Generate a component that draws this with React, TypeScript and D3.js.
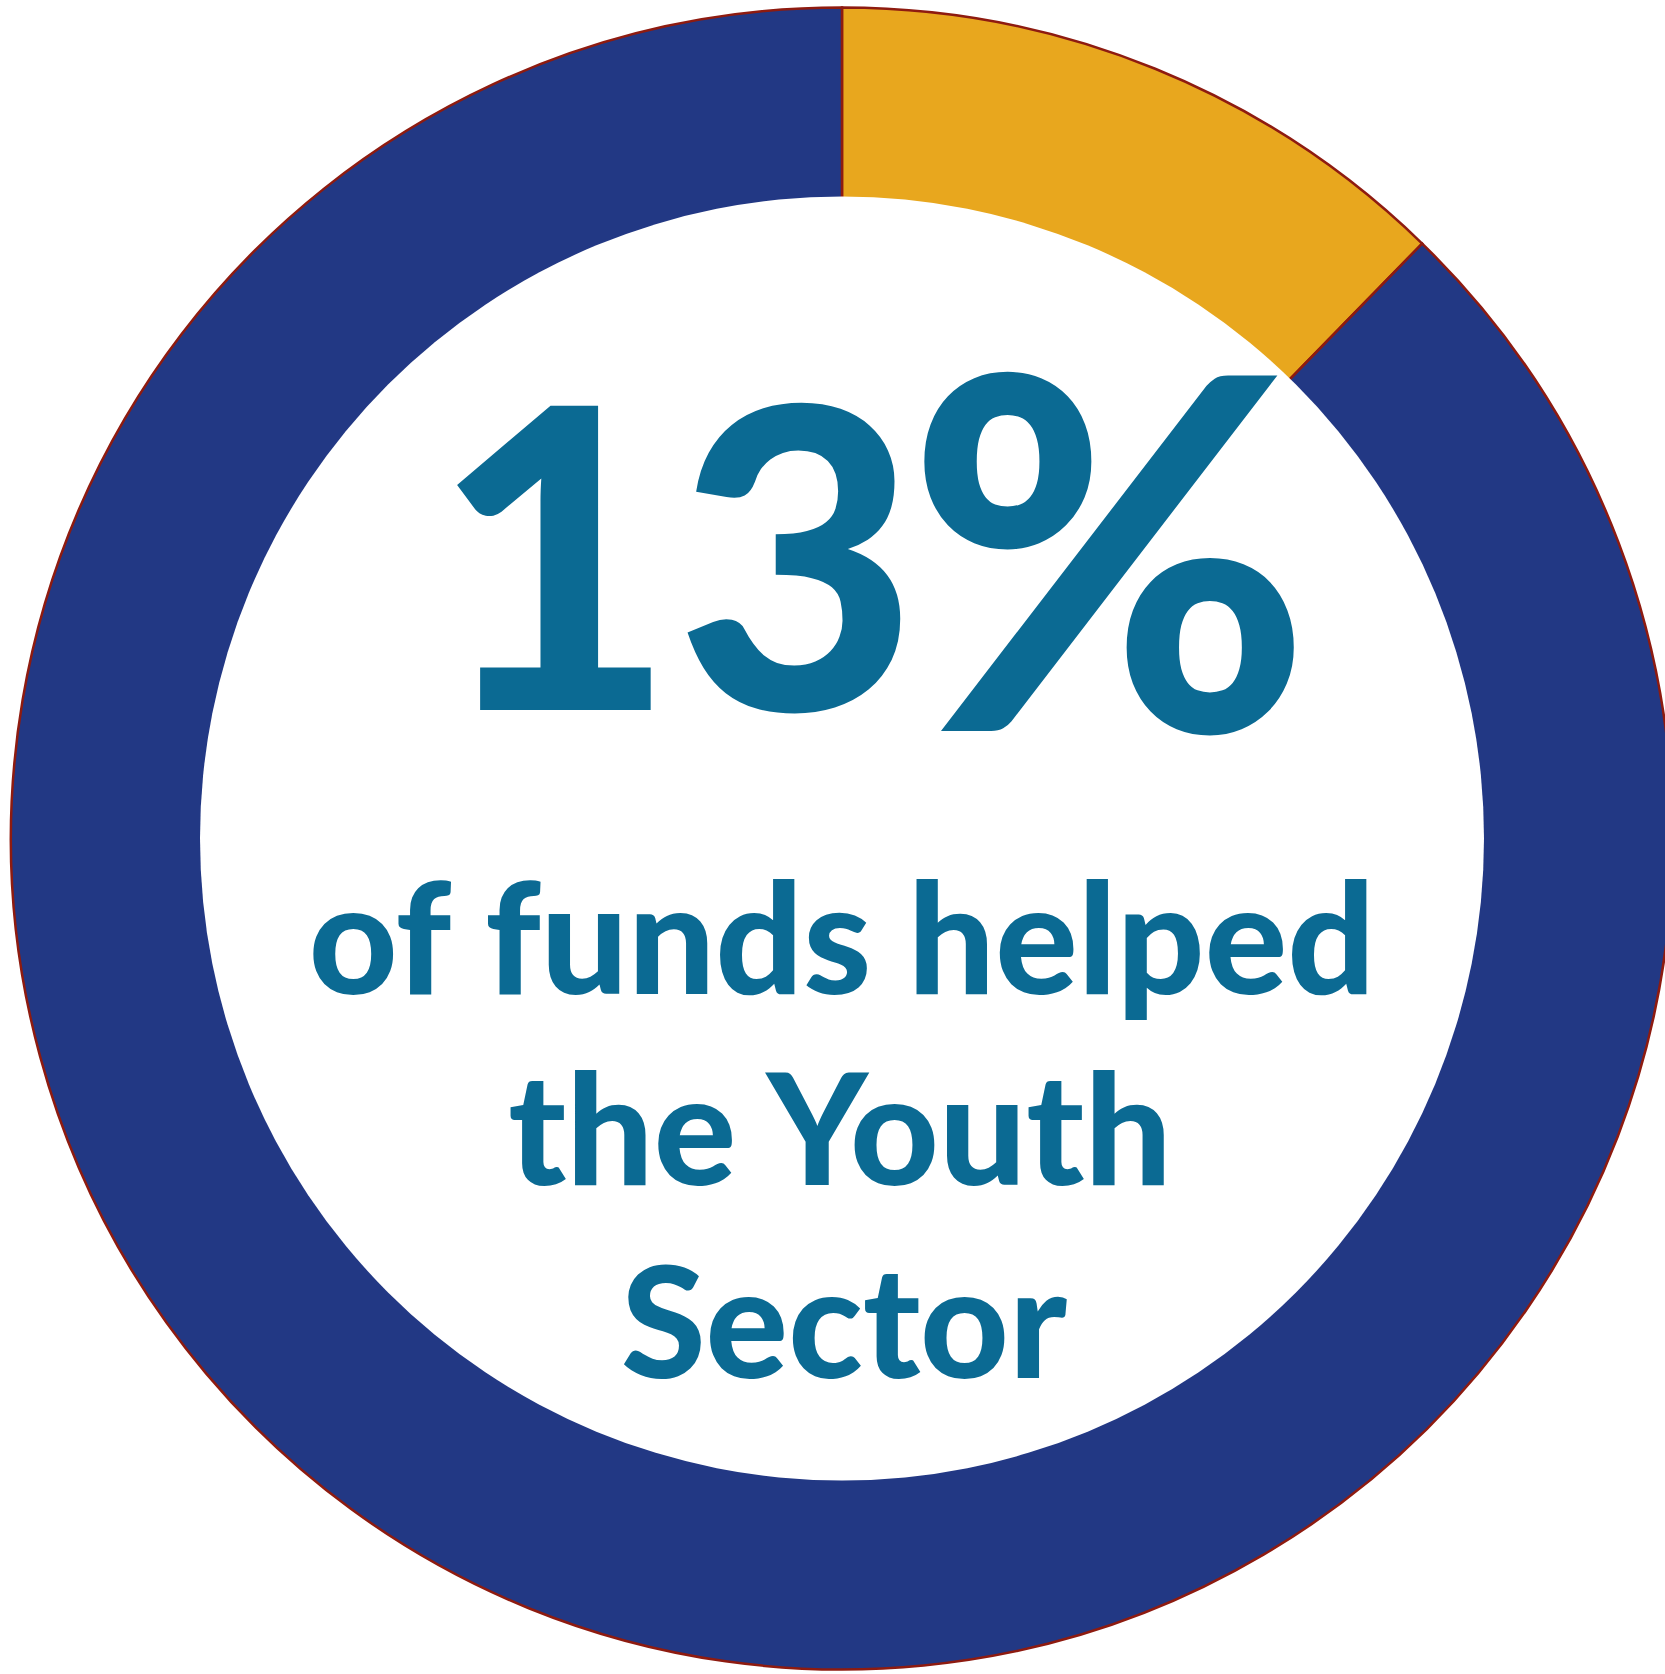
import React from "react";
import * as d3 from "d3";

const categories = ["Youth Sector", "Other"];
const values = [12.3, 87.7];
const colors = ["#E8A71E", "#223884"];
const headlineNumber = "13";
const headlineSymbol = "%";
const captionLines = ["of funds helped", "the Youth", "Sector"];

const W = 1665;
const H = 1674;
const cx = 842;
const cy = 838.5;
const outerR = 831;
const innerR = 642;

export default function App() {
  const pie = d3
    .pie<number>()
    .sort(null)
    .value((d) => d)
    .startAngle(0)
    .endAngle(2 * Math.PI);
  const arcs = pie(values);
  const arcGen = d3.arc<d3.PieArcDatum<number>>().innerRadius(0).outerRadius(outerR);
  const textColor = "#0B6A93";
  const font = "Lato, 'Noto Sans', sans-serif";
  const lineX = [842, 840, 844];
  const lineY = [994, 1185, 1378];
  return (
    <svg
      width={W}
      height={H}
      style={{ position: "absolute", left: 0, top: 0, display: "block" }}
    >
      <rect width={W} height={H} fill="#ffffff" />
      <g transform={`translate(${cx},${cy})`}>
        {arcs.map((a, i) => (
          <path
            key={categories[i]}
            d={arcGen(a) || ""}
            fill={colors[i]}
            stroke="#8E1B10"
            strokeWidth={2.5}
            strokeLinejoin="miter"
          />
        ))}
        <circle r={innerR} fill="#ffffff" />
      </g>
      <text
        x={872}
        y={710}
        textAnchor="middle"
        fill={textColor}
        fontFamily={font}
        fontWeight={900}
        fontSize={419}
      >
        <tspan>{headlineNumber}</tspan>
        <tspan fontSize={490} dx={-12} dy={21}>
          {headlineSymbol}
        </tspan>
      </text>
      {captionLines.map((t, i) => (
        <text
          key={t}
          x={lineX[i]}
          y={lineY[i]}
          textAnchor="middle"
          fill={textColor}
          fontFamily={font}
          fontWeight={900}
          fontSize={154}
        >
          {t}
        </text>
      ))}
    </svg>
  );
}
